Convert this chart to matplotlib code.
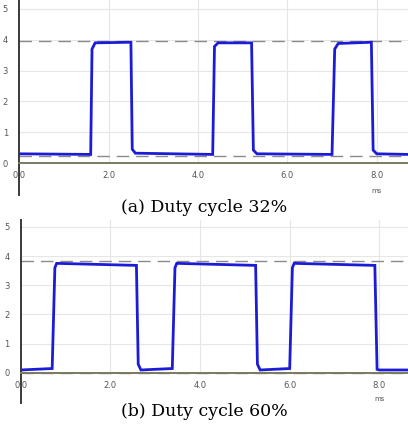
import matplotlib
matplotlib.use('Agg')
import matplotlib.pyplot as plt

# Panel (a): duty cycle 32 % - corner points of the scope trace (ms, V)
a_t = [0.00, 1.60, 1.63, 1.70, 2.50, 2.53, 2.60, 4.33, 4.37, 4.45,
       5.20, 5.24, 5.32, 7.00, 7.06, 7.14, 7.88, 7.92, 8.00, 8.70]
a_v = [0.30, 0.28, 3.70, 3.90, 3.92, 0.45, 0.32, 0.28, 3.78, 3.90,
       3.90, 0.42, 0.30, 0.28, 3.70, 3.88, 3.92, 0.42, 0.30, 0.28]
a_ref = [0.22, 3.95]

# Panel (b): duty cycle 60 %
b_t = [0.00, 0.70, 0.76, 0.80, 2.58, 2.62, 2.68, 3.38, 3.44, 3.48,
       5.24, 5.28, 5.34, 6.00, 6.06, 6.10, 7.90, 7.95, 8.00, 8.70]
b_v = [0.10, 0.15, 3.60, 3.75, 3.68, 0.30, 0.10, 0.15, 3.60, 3.75,
       3.68, 0.30, 0.10, 0.15, 3.60, 3.75, 3.68, 0.12, 0.10, 0.10]
b_ref = [0.0, 3.82]

x_ticks = [0.0, 2.0, 4.0, 6.0, 8.0]
x_labels = ['0.0', '2.0', '4.0', '6.0', '8.0']
y_ticks = [0, 1, 2, 3, 4, 5]
captions = ['(a) Duty cycle 32%', '(b) Duty cycle 60%']


def scope_panel(fig, rect, t, v, ref, ylim, xmax):
    ax = fig.add_axes(rect)
    ax.set_xlim(0, xmax)
    ax.set_ylim(*ylim)
    for s in ['top', 'right']:
        ax.spines[s].set_visible(False)
    ax.spines['left'].set_color('#3a3a3a')
    ax.spines['left'].set_linewidth(1.4)
    ax.spines['bottom'].set_position(('data', 0))
    ax.spines['bottom'].set_color('#7a7a62')
    ax.spines['bottom'].set_linewidth(1.4)
    ax.set_xticks(x_ticks)
    ax.set_xticklabels(x_labels)
    ax.set_yticks(y_ticks)
    ax.tick_params(axis='both', length=0, labelsize=6, colors='#555555')
    ax.tick_params(axis='x', pad=6)
    ax.tick_params(axis='y', pad=8)
    for y in y_ticks[1:]:
        ax.axhline(y, color='#e6e6e6', lw=0.8, zorder=0)
    for x in x_ticks[1:]:
        ax.axvline(x, ymin=(0 - ylim[0]) / (ylim[1] - ylim[0]), color='#e6e6e6', lw=0.8, zorder=0)
    for r in ref:
        ax.axhline(r, color='#8a8a8a', lw=1.0, dashes=(9, 5), zorder=1)
    ax.plot(t, v, color='#1c1cd6', lw=2.0, zorder=3, solid_joinstyle='miter')
    ax.text(8.0, -0.9, 'ms', fontsize=5, color='#555555', ha='center', va='center')
    return ax


fig = plt.figure(figsize=(4.08, 4.26), dpi=100)
scope_panel(fig, [0.047, 0.542, 0.953, 0.458], a_t, a_v, a_ref, (-1.04, 5.29), 8.7)
scope_panel(fig, [0.051, 0.054, 0.949, 0.430], b_t, b_v, b_ref, (-1.03, 5.24), 8.64)

fig.text(0.5, 1 - 208 / 426, captions[0], fontsize=12.5, family='DejaVu Serif', ha='center', va='center')
fig.text(0.5, 1 - 411 / 426, captions[1], fontsize=12.5, family='DejaVu Serif', ha='center', va='center')

fig.savefig('out.png', dpi=100)
